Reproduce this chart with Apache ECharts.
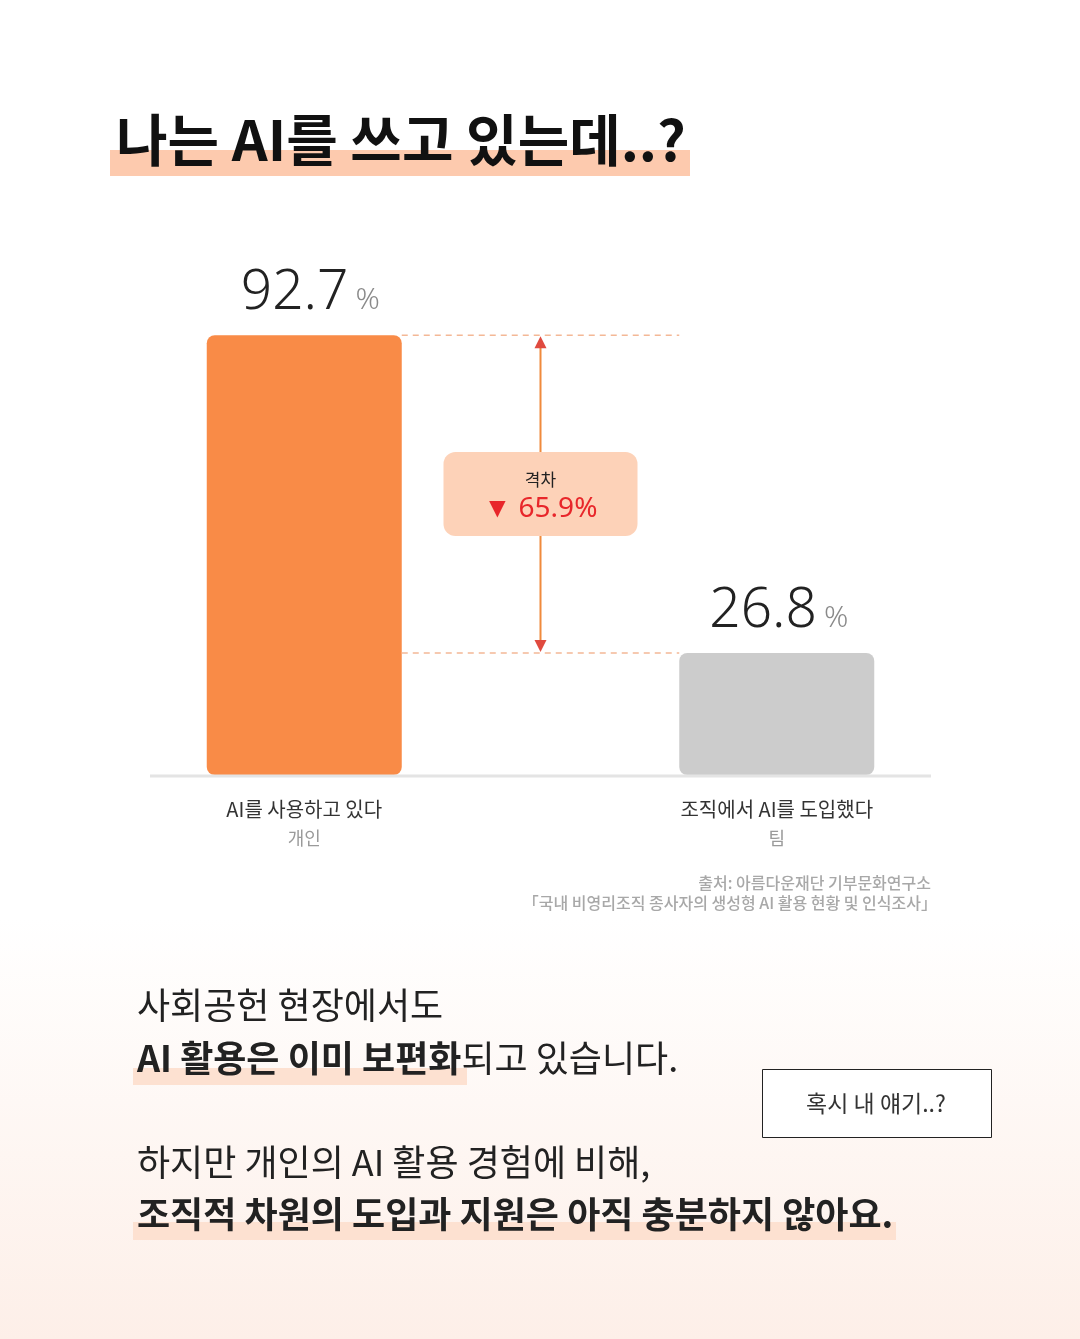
<!DOCTYPE html>
<html><head><meta charset="utf-8">
<script src="https://cdn.jsdelivr.net/npm/echarts@6/dist/echarts.min.js"></script>
<style>html,body{margin:0;padding:0;background:#fff}#c{width:1080px;height:1339px}</style>
</head><body><div id="c"></div>
<script>
const categories = ['AI를 사용하고 있다', '조직에서 AI를 도입했다'];
const groups = ['개인', '팀'];
const values = [92.7, 26.8];
const barColors = ['#f98b47', '#cccccc'];
const titleText = '나는 AI를 쓰고 있는데..?';
const gapLabel = '격차';
const sourceLines = ['출처: 아름다운재단 기부문화연구소', '「국내 비영리조직 종사자의 생성형 AI 활용 현황 및 인식조사」'];
const bodyLine1 = '사회공헌 현장에서도';
const bodyLine2Bold = 'AI 활용은 이미 보편화';
const bodyLine2Rest = '되고 있습니다.';
const bodyLine3 = '하지만 개인의 AI 활용 경험에 비해,';
const bodyLine4 = '조직적 차원의 도입과 지원은 아직 충분하지 않아요.';
const boxText = '혹시 내 얘기..?';

const FONT = '"Noto Sans CJK KR", "Noto Sans", sans-serif';
const chart = echarts.init(document.getElementById('c'), null, {renderer: 'canvas'});

const BAR_W = 195;
const option = {
  animation: false,
  textStyle: {fontFamily: FONT},
  grid: {left: 68, right: 67, top: 300, bottom: 564},
  xAxis: {
    type: 'category', data: categories,
    axisLine: {show: false}, axisTick: {show: false},
    axisLabel: {
      margin: 20, interval: 0,
      formatter: (v, i) => '{a|' + v + '}\n{b|' + groups[i] + '}',
      rich: {
        a: {fontSize: 20, color: '#333', lineHeight: 29, fontFamily: FONT},
        b: {fontSize: 18, color: '#9a9a9a', lineHeight: 29, fontFamily: FONT}
      }
    }
  },
  // NOTE: min is 1.5, not 0. In the reference picture the two bar heights are not
  // exactly proportional to 92.7 and 26.8 from a zero baseline; this small offset
  // (with clip: true below) reproduces the reference's pixel heights.
  // Set min: 0 for a strictly zero-based, proportional bar scale.
  yAxis: {type: 'value', min: 1.5, max: 100, show: false, splitLine: {show: false}},
  series: [{
    type: 'bar', barWidth: BAR_W, clip: true,
    data: values.map((v, i) => ({value: v, itemStyle: {color: barColors[i], borderRadius: 8},
      label: {offset: [i === 0 ? 6 : 2, 0]}})),
    label: {
      show: true, position: 'top', distance: 12,
      formatter: p => '{v|' + p.value + '}{p|%}',
      rich: {
        v: {fontSize: 55, color: '#222', fontWeight: 300, fontFamily: '"Noto Sans", sans-serif', lineHeight: 60},
        p: {fontSize: 30, color: '#8a8a8a', fontWeight: 300, fontFamily: '"Noto Sans", sans-serif', lineHeight: 60, padding: [14, 0, 0, 7]}
      }
    }
  }]
};
chart.setOption(option);

const p1 = chart.convertToPixel({seriesIndex: 0}, [0, values[0]]);
const p2 = chart.convertToPixel({seriesIndex: 0}, [1, values[1]]);
const yBase = 1339 - 564;
const gridLeftPx = 150, gridRightPx = 931;
const xL = p1[0] + BAR_W / 2, xR = p2[0] - BAR_W / 2;
const xm = (xL + xR) / 2;
const gap = (values[0] - values[1]).toFixed(1);
const ym = (p1[1] + p2[1]) / 2;

const graphic = [
  {type: 'rect', z: -10, silent: true, shape: {x: 0, y: 0, width: 1080, height: 1339},
   style: {fill: new echarts.graphic.LinearGradient(0, 0, 0, 1, [
     {offset: 0, color: '#ffffff'}, {offset: 0.685, color: '#ffffff'}, {offset: 1, color: '#fdefe8'}])}},
  // title
  {type: 'rect', z: 1, shape: {x: 110, y: 150, width: 580, height: 26}, style: {fill: '#fdcaae'}},
  {type: 'text', z: 2, x: 116, y: 140, style: {text: titleText, font: 'bold 56px ' + FONT, fill: '#111', textVerticalAlign: 'middle'}},
  // baseline
  {type: 'line', z: 5, shape: {x1: gridLeftPx, y1: yBase + 1, x2: gridRightPx, y2: yBase + 1}, style: {stroke: '#e4e4e4', lineWidth: 3}},
  // dashed guide lines
  {type: 'line', z: 5, shape: {x1: xL, y1: p1[1], x2: xR, y2: p1[1]}, style: {stroke: '#f4b896', lineWidth: 1.5, lineDash: [6, 5]}},
  {type: 'line', z: 5, shape: {x1: xL, y1: p2[1], x2: xR, y2: p2[1]}, style: {stroke: '#f4b896', lineWidth: 1.5, lineDash: [6, 5]}},
  // arrow
  {type: 'line', z: 6, shape: {x1: xm, y1: p1[1] + 10, x2: xm, y2: p2[1] - 10}, style: {stroke: '#f08a3c', lineWidth: 2}},
  {type: 'polygon', z: 7, shape: {points: [[xm, p1[1] + 1], [xm - 6, p1[1] + 13], [xm + 6, p1[1] + 13]]}, style: {fill: '#e04a3f'}},
  {type: 'polygon', z: 7, shape: {points: [[xm, p2[1] - 1], [xm - 6, p2[1] - 13], [xm + 6, p2[1] - 13]]}, style: {fill: '#e04a3f'}},
  // gap box
  {type: 'rect', z: 8, shape: {x: xm - 97, y: ym - 42, width: 194, height: 84, r: 12}, style: {fill: '#fdd2b8'}},
  {type: 'text', z: 9, x: xm, y: ym - 15, style: {text: gapLabel, font: '17px ' + FONT, fill: '#222', textAlign: 'center', textVerticalAlign: 'middle'}},
  {type: 'text', z: 9, x: xm, y: ym + 15, style: {text: '▼ ' + gap + '%', font: '28px "Noto Sans", sans-serif', fill: '#e8262a', textAlign: 'center', textVerticalAlign: 'middle'}},
  // source
  {type: 'text', z: 5, x: 931, y: 883, style: {text: sourceLines[0], font: '500 16px ' + FONT, fill: '#a8a8a8', textAlign: 'right', textVerticalAlign: 'middle'}},
  {type: 'text', z: 5, x: 937, y: 903, style: {text: sourceLines[1], font: '500 16px ' + FONT, fill: '#a8a8a8', textAlign: 'right', textVerticalAlign: 'middle'}},
  // body highlights
  {type: 'rect', z: 1, shape: {x: 133, y: 1068, width: 334, height: 17}, style: {fill: '#fde1d1'}},
  {type: 'rect', z: 1, shape: {x: 133, y: 1222, width: 763, height: 18}, style: {fill: '#fde1d1'}},
  // body text
  {type: 'text', z: 2, x: 137, y: 1005, style: {text: bodyLine1, font: '36px ' + FONT, fill: '#222', textVerticalAlign: 'middle'}},
  {type: 'text', z: 2, x: 137, y: 1058, style: {text: '{b|' + bodyLine2Bold + '}{r|' + bodyLine2Rest + '}', font: '36px ' + FONT, fill: '#222', textVerticalAlign: 'middle',
    rich: {b: {font: 'bold 36px ' + FONT, fill: '#222'}, r: {font: '36px ' + FONT, fill: '#222'}}}},
  {type: 'text', z: 2, x: 137, y: 1162, style: {text: bodyLine3, font: '36px ' + FONT, fill: '#222', textVerticalAlign: 'middle'}},
  {type: 'text', z: 2, x: 137, y: 1214, style: {text: bodyLine4, font: 'bold 36px ' + FONT, fill: '#222', textVerticalAlign: 'middle'}},
  // box
  {type: 'rect', z: 3, shape: {x: 762.5, y: 1069.5, width: 229, height: 68}, style: {fill: '#fff', stroke: '#222', lineWidth: 1}},
  {type: 'text', z: 4, x: 876, y: 1103, style: {text: boxText, font: '23px ' + FONT, fill: '#333', textAlign: 'center', textVerticalAlign: 'middle'}}
];
chart.setOption({graphic: graphic});
</script></body></html>
